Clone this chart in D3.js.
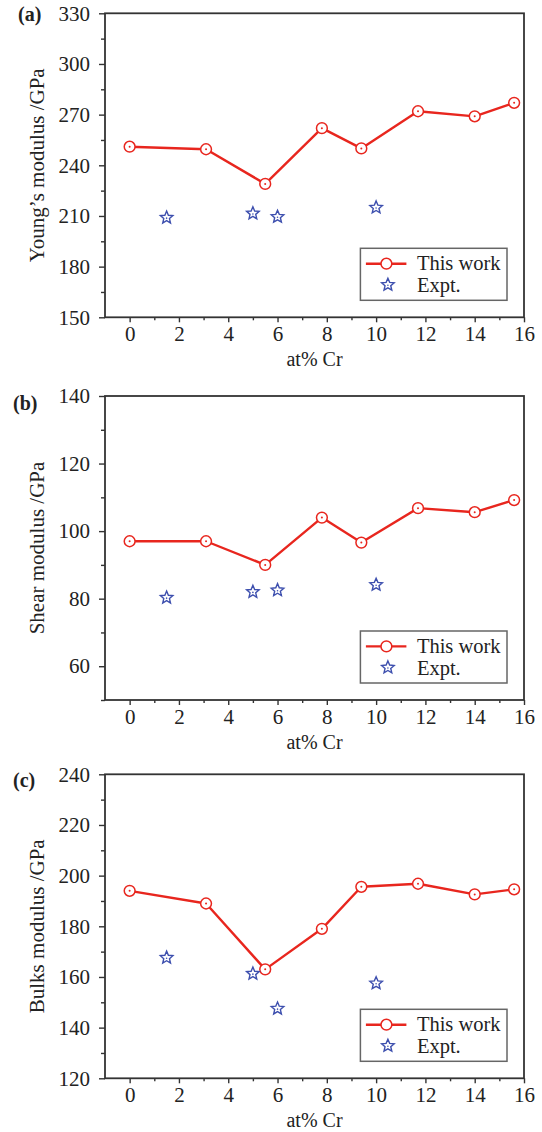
<!DOCTYPE html>
<html>
<head>
<meta charset="utf-8">
<script src="https://cdn.jsdelivr.net/npm/d3@7"></script>
<style>
  html, body { margin: 0; padding: 0; background: #fff; }
  svg { display: block; }
</style>
</head>
<body>
<svg id="chart" width="542" height="1132"></svg>
<script>
// Cr content (at%) of the calculated compositions and of the experimental ones
const workCr = [0, 3.1, 5.5, 7.8, 9.4, 11.7, 14.0, 15.6];
const exptCr = [1.5, 5, 6, 10];

// Young's modulus (GPa)
const youngWork = [251, 249.5, 229, 262, 250, 272, 269, 277];
const youngExpt = [209, 211.5, 209.5, 215];

// Shear modulus (GPa)
const shearWork = [97, 97, 90, 104, 96.6, 106.8, 105.6, 109.2];
const shearExpt = [80.3, 82, 82.5, 84.1];

// Bulk modulus (GPa)
const bulkWork = [194, 189, 163, 179, 195.6, 196.8, 192.6, 194.6];
const bulkExpt = [167.6, 161.3, 147.5, 157.5];

const xTicks = [0, 2, 4, 6, 8, 10, 12, 14, 16];
const youngTicks = [150, 180, 210, 240, 270, 300, 330];
const shearTicks = [60, 80, 100, 120, 140];
const bulkTicks = [120, 140, 160, 180, 200, 220, 240];

const panelTags = ["(a)", "(b)", "(c)"];
const yTitles = ["Young\u2019s modulus /GPa", "Shear modulus /GPa", "Bulks modulus /GPa"];
const legendLabels = ["This work", "Expt."];

const panels = [
  { tag: panelTags[0], title: yTitles[0], work: youngWork, expt: youngExpt, ticks: youngTicks,
    domain: [150, 330], minorStep: 15, top: 13.3, tagX: 18, tagDy: 0 },
  { tag: panelTags[1], title: yTitles[1], work: shearWork, expt: shearExpt, ticks: shearTicks,
    domain: [50, 140], minorStep: 10, top: 396, tagX: 13, tagDy: 6 },
  { tag: panelTags[2], title: yTitles[2], work: bulkWork, expt: bulkExpt, ticks: bulkTicks,
    domain: [120, 240], minorStep: 10, top: 774.3, tagX: 13, tagDy: 5 }
];

const RED = "#e8261e";
const BLUE = "#3d4fae";
const AXIS = "#333";
const TEXT = "#222";
const SERIF = '"Liberation Serif", Tinos, "Times New Roman", serif';
const plotLeft = 105, plotRight = 524, plotH = 304;
const FONT = 21;

const svg = d3.select("#chart");

const x = d3.scaleLinear().domain([-1, 16]).range([plotLeft, plotRight]);

function styleText(sel, size) {
  return sel.style("font-family", SERIF).style("font-size", size + "px").style("fill", TEXT);
}

// five-pointed star outline centred on the origin
function starPath(rOut, rIn) {
  const pts = [];
  for (let i = 0; i < 10; i++) {
    const r = i % 2 === 0 ? rOut : rIn;
    const a = -Math.PI / 2 + i * Math.PI / 5;
    pts.push([r * Math.cos(a), r * Math.sin(a)]);
  }
  return "M" + pts.map(p => p[0].toFixed(2) + "," + p[1].toFixed(2)).join("L") + "Z";
}
const STAR = starPath(6.6, 3.0);

function drawCircleMarker(g, cx, cy) {
  g.append("circle").attr("cx", cx).attr("cy", cy).attr("r", 5.4)
    .attr("fill", "#fff").attr("stroke", RED).attr("stroke-width", 1.5);
  g.append("circle").attr("cx", cx).attr("cy", cy).attr("r", 1)
    .attr("fill", RED);
}
function drawStarMarker(g, cx, cy) {
  g.append("path").attr("d", STAR).attr("transform", `translate(${cx},${cy})`)
    .attr("fill", "none").attr("stroke", BLUE).attr("stroke-width", 1.4)
    .attr("stroke-linejoin", "miter");
  g.append("circle").attr("cx", cx).attr("cy", cy + 0.5).attr("r", 0.8)
    .attr("fill", BLUE);
}

panels.forEach(p => {
  const top = p.top, bottom = top + plotH;
  const y = d3.scaleLinear().domain(p.domain).range([bottom, top]);
  const g = svg.append("g");

  // minor ticks
  const xMinor = d3.range(1, 16, 2);
  g.append("g").attr("transform", `translate(0,${bottom})`)
    .call(d3.axisBottom(x).tickValues(xMinor).tickSize(3).tickFormat(""))
    .call(a => a.select(".domain").remove())
    .call(a => a.selectAll("line").attr("stroke", AXIS).attr("stroke-width", 1.4));
  const yMinor = d3.range(p.domain[0], p.domain[1] + 0.01, p.minorStep)
    .filter(v => !p.ticks.includes(v));
  g.append("g").attr("transform", `translate(${plotLeft},0)`)
    .call(d3.axisLeft(y).tickValues(yMinor).tickSize(4).tickFormat(""))
    .call(a => a.select(".domain").remove())
    .call(a => a.selectAll("line").attr("stroke", AXIS).attr("stroke-width", 1.4));

  // major ticks and labels
  const xa = g.append("g").attr("transform", `translate(0,${bottom})`)
    .call(d3.axisBottom(x).tickValues(xTicks).tickSize(5).tickPadding(4).tickFormat(d3.format("d")));
  xa.select(".domain").remove();
  xa.selectAll("line").attr("stroke", AXIS).attr("stroke-width", 1.4);
  styleText(xa.selectAll("text"), FONT);

  const ya = g.append("g").attr("transform", `translate(${plotLeft},0)`)
    .call(d3.axisLeft(y).tickValues(p.ticks).tickSize(6).tickPadding(9).tickFormat(d3.format("d")));
  ya.select(".domain").remove();
  ya.selectAll("line").attr("stroke", AXIS).attr("stroke-width", 1.4);
  styleText(ya.selectAll("text"), FONT);

  // plot frame
  g.append("rect").attr("x", plotLeft).attr("y", top)
    .attr("width", plotRight - plotLeft).attr("height", plotH)
    .attr("fill", "none").attr("stroke", AXIS).attr("stroke-width", 1.8);

  // axis titles and panel tag
  styleText(g.append("text").attr("x", (plotLeft + plotRight) / 2).attr("y", bottom + 42)
    .attr("text-anchor", "middle").attr("dominant-baseline", "central")
    .text("at% Cr"), 20);
  styleText(g.append("text")
    .attr("transform", `translate(37,${(top + bottom) / 2}) rotate(-90)`)
    .attr("text-anchor", "middle").attr("dominant-baseline", "central")
    .text(p.title), FONT);
  styleText(g.append("text").attr("x", p.tagX).attr("y", top + 1 + p.tagDy)
    .attr("dominant-baseline", "central")
    .text(p.tag), 20).style("font-weight", "bold");

  // calculated series: line + open circles
  const line = d3.line().x((d, i) => x(workCr[i])).y(d => y(d));
  g.append("path").datum(p.work).attr("d", line)
    .attr("fill", "none").attr("stroke", RED).attr("stroke-width", 2.4)
    .attr("stroke-linejoin", "round");
  p.work.forEach((v, i) => drawCircleMarker(g, x(workCr[i]), y(v)));

  // experimental points: open stars
  p.expt.forEach((v, i) => drawStarMarker(g, x(exptCr[i]), y(v)));

  // legend
  const lw = 146.6, lh = 52;
  const lx = plotRight - 17 - lw, ly = bottom - 17 - lh;
  const lg = g.append("g").attr("transform", `translate(${lx},${ly})`);
  lg.append("rect").attr("width", lw).attr("height", lh)
    .attr("fill", "#fff").attr("stroke", "#666").attr("stroke-width", 1.5);
  lg.append("line").attr("x1", 5.5).attr("x2", 46).attr("y1", 15.4).attr("y2", 15.4)
    .attr("stroke", RED).attr("stroke-width", 2.4);
  lg.append("circle").attr("cx", 26).attr("cy", 15.4).attr("r", 5.4)
    .attr("fill", "#fff").attr("stroke", RED).attr("stroke-width", 1.5);
  drawStarMarker(lg, 27.5, 36.5);
  styleText(lg.append("text").attr("x", 56.5).attr("y", 14.5).attr("dominant-baseline", "central")
    .text(legendLabels[0]), 20.5);
  styleText(lg.append("text").attr("x", 56.5).attr("y", 37).attr("dominant-baseline", "central")
    .text(legendLabels[1]), 20.5);
});
</script>
</body>
</html>
